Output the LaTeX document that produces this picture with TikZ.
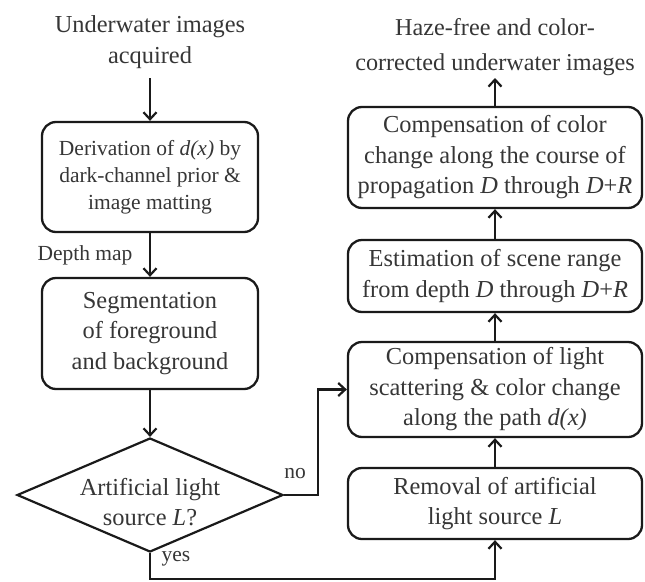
\documentclass[tikz,border=0pt]{standalone}
\usepackage{fontspec}
\setmainfont{Liberation Serif}
\usetikzlibrary{arrows.meta,shapes.geometric}
\definecolor{txt}{HTML}{363636}
\definecolor{ln}{HTML}{1A1A1A}
\begin{document}
\begin{tikzpicture}[x=1pt,y=-1pt,
  font=\fontsize{24.4}{30.5}\selectfont,
  box/.style={draw=ln,line width=2.3pt,rounded corners=14pt,align=center,text=txt,inner sep=0pt},
  plain/.style={align=center,text=txt,inner sep=0pt},
  arr/.style={draw=ln,line width=2.2pt,-{Straight Barb[length=7pt,width=13pt,line width=2.2pt]}},
  lbl/.style={text=txt,inner sep=0pt,font=\fontsize{21.5}{26}\selectfont}]
\useasboundingbox (0,0) rectangle (645,581);
% left column
\node[plain] (t1) at (150,42) {Underwater images\\acquired};
\coordinate (t1b) at (150,78);
\node[box,minimum width=216pt,minimum height=110pt,font=\fontsize{21.5}{27}\selectfont] (b1) at (150,177) {Derivation of \textit{d(x)} by\\dark-channel prior \&\\image matting};
\node[box,minimum width=216pt,minimum height=111pt] (b2) at (150,333.5) {Segmentation\\of foreground\\and background};
\node[draw=ln,line width=2.2pt,diamond,minimum width=266pt,minimum height=114pt,inner sep=0pt] (dia) at (150,495) {};
\node[plain] (diat) at (150,502) {Artificial light\\source \textit{L}?};
% right column
\node[plain,font=\fontsize{24.2}{35}\selectfont] (t2) at (495,47) {Haze-free and color-\\corrected underwater images};
\coordinate (t2b) at (495,78);
\node[box,minimum width=294pt,minimum height=101pt] (bA) at (495,157.5) {Compensation of color\\change along the course of\\propagation \textit{D} through \textit{D}+\textit{R}};
\node[box,minimum width=294pt,minimum height=72pt] (bB) at (495,276) {Estimation of scene range\\from depth \textit{D} through \textit{D}+\textit{R}};
\node[box,minimum width=294pt,minimum height=95pt] (bC) at (495,389.5) {Compensation of light\\scattering \& color change\\along the path \textit{d(x)}};
\node[box,minimum width=294pt,minimum height=71pt] (bD) at (495,503.5) {Removal of artificial\\light source \textit{L}};
% connectors
\draw[arr] (t1b) -- (b1.north);
\draw[arr] (b1.south) -- (b2.north);
\node[lbl] (dm) at (85,255) {Depth map};
\draw[arr] (b2.south) -- (dia.north);
\draw[arr] (dia.east) -- ++(34,0) |- (bC.west);
\node[lbl] (no) at (295,474) {no};
\draw[arr] (dia.south) -- ++(0,26) -| (bD.south);
\node[lbl] (yes) at (176,559) {yes};
\draw[arr] (bD.north) -- (bC.south);
\draw[arr] (bC.north) -- (bB.south);
\draw[arr] (bB.north) -- (bA.south);
\draw[arr] (bA.north) -- (t2b);
\end{tikzpicture}
\end{document}
